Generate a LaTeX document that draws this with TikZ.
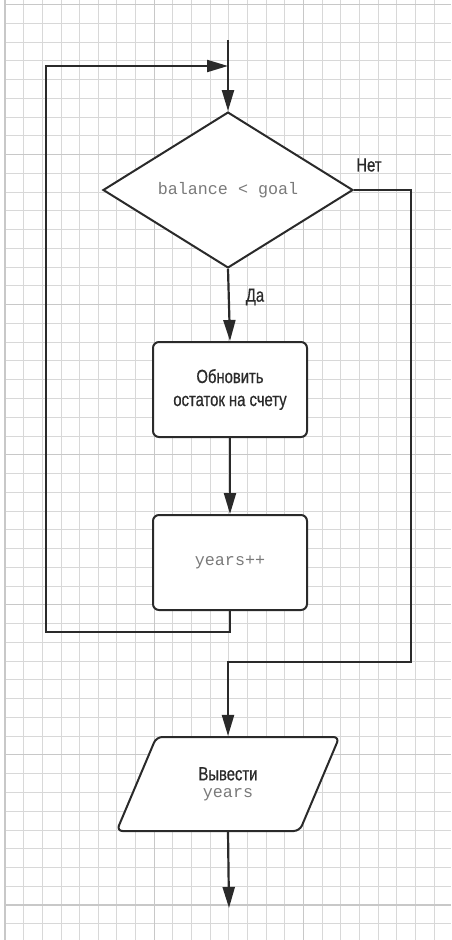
\documentclass[tikz,border=0pt]{standalone}
\usepackage{fontspec}
\setmainfont{Liberation Sans}
\newfontfamily\narrowsans[FakeStretch=0.78,FakeBold=0.6]{Liberation Sans}
\newfontfamily\codefont{Liberation Mono}
\usetikzlibrary{arrows.meta,shapes.geometric}
\definecolor{ink}{HTML}{2A2A2A}
\definecolor{codegray}{HTML}{7A7A7A}
\definecolor{gridminor}{HTML}{D8D8D8}
\definecolor{gridmajor}{HTML}{C8C8C8}
\tikzset{
  gridline/.style={draw=gridminor, line width=0.9pt},
  gridmaj/.style={draw=gridmajor, line width=1.1pt},
  flowline/.style={draw=ink, line width=2.2pt},
  flowarrow/.style={flowline, -{Triangle[length=21pt,width=12pt]}},
  sanstext/.style={font=\narrowsans\fontsize{19}{23}\selectfont, text=ink},
  codetext/.style={font=\codefont\fontsize{16.7}{20}\selectfont, text=codegray},
  stepbox/.style={draw=ink, line width=2pt, rounded corners=6pt, fill=white,
    minimum width=154pt, minimum height=95pt, inner sep=0pt, align=center},
  decision/.style={diamond, draw=ink, line width=2pt, fill=white,
    minimum width=250pt, minimum height=150pt, inner sep=0pt},
  iobox/.style={trapezium, trapezium left angle=64, trapezium right angle=116,
    trapezium stretches=true, draw=ink, line width=2pt, rounded corners=6pt,
    fill=white, minimum width=223pt, minimum height=94pt, inner sep=0pt, align=center},
  lbl/.style={sanstext}
}
\begin{document}
\begin{tikzpicture}[x=1pt,y=-1pt]
\useasboundingbox (0,0) rectangle (451,940);
\fill[white] (0,0) rectangle (451,940);
% graph paper
\foreach \i in {0,...,23} {
  \draw[gridline] ({5+18.65*\i},0) -- ({5+18.65*\i},940);
}
\foreach \j in {0,...,49} {
  \draw[gridline] (5,{4.5+18.76*\j}) -- (451,{4.5+18.76*\j});
}
\foreach \i in {0,8,16} {
  \draw[gridmaj] ({5+18.65*\i},0) -- ({5+18.65*\i},940);
}
\foreach \j in {0,8,16,24,32,40,48} {
  \draw[gridmaj] (5,{4.5+18.76*\j}) -- (451,{4.5+18.76*\j});
}
% nodes
\node[decision] (cond) at (228,190) {\codefont\fontsize{16.7}{20}\selectfont\color{codegray}balance < goal};
\node[stepbox, sanstext] (upd) at (230,389.5) {Обновить\\остаток на счету};
\node[stepbox, codetext] (inc) at (230,562.5) {years++};
\node[iobox] (outp) at (228,784) {{\narrowsans\fontsize{19}{23}\selectfont\color{ink}Вывести}\\[5pt]{\codefont\fontsize{16.7}{20}\selectfont\color{codegray}years}};
\node[lbl] (yes) at (255,297) {Да};
\node[lbl] (no) at (369,165) {Нет};
% coordinates
\coordinate (start) at (228,40);
\coordinate (merge) at (228,66);
\coordinate (lc) at (46,632);
\coordinate (rc) at (411,662);
\coordinate (finish) at (229,908);
% connectors
\draw[flowarrow] (start) -- (cond.north);
\draw[flowarrow] (cond.south) -- (upd.north);
\draw[flowarrow] (upd.south) -- (inc.north);
\draw[flowarrow] (inc.south) |- (lc) |- (merge);
\draw[flowarrow] (cond.east) -| (rc) -| (outp.north);
\draw[flowarrow] (outp.south) -- (finish);
\end{tikzpicture}
\end{document}
